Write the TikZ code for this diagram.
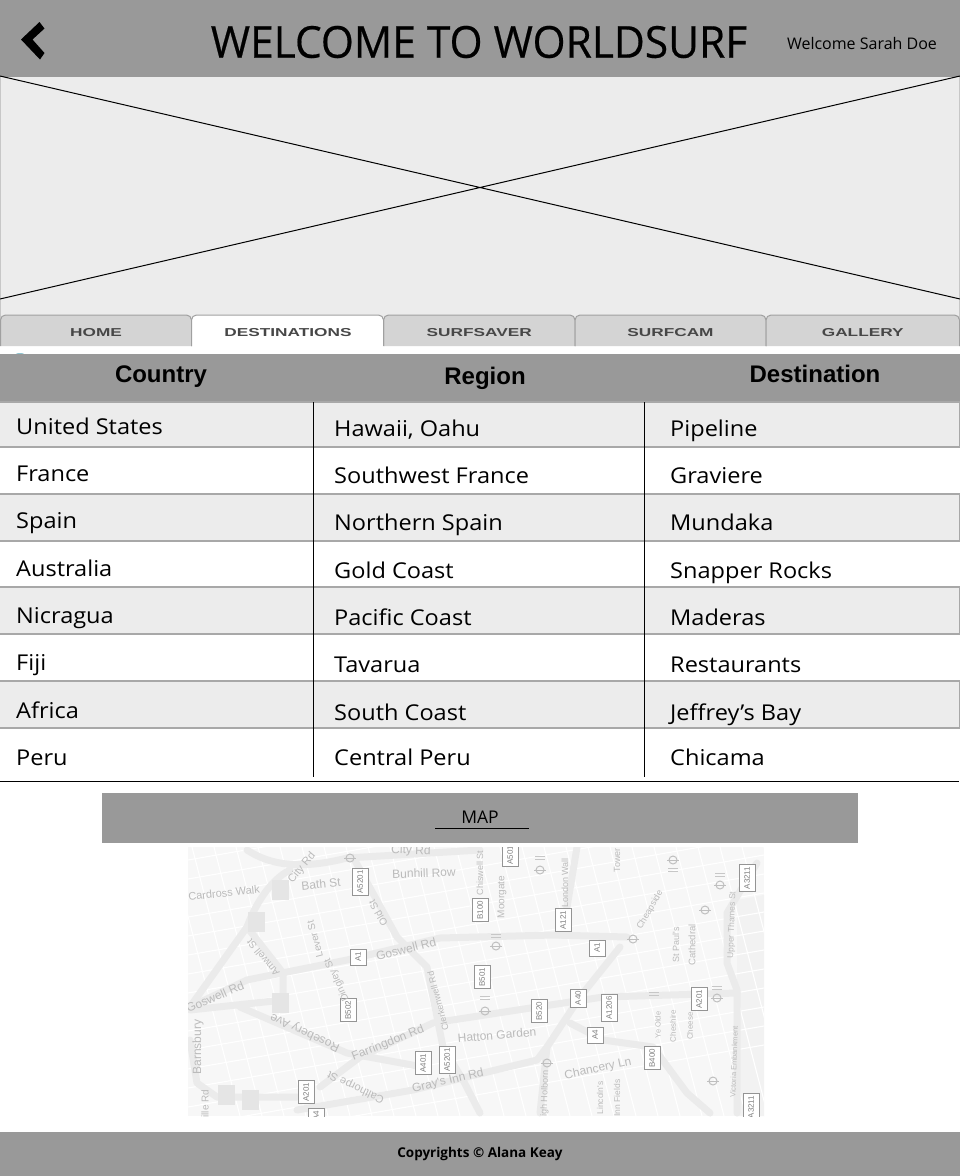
\documentclass[tikz,border=0pt]{standalone}
\usepackage{fontspec}
\setmainfont{Open Sans}
\newfontfamily\cellfont[FakeStretch=1.08]{Open Sans}
\newfontfamily\tabfont[FakeStretch=1.5]{Liberation Sans}
\newfontfamily\headfont{Liberation Sans}
\newfontfamily\mapfont{Liberation Sans}
\newfontfamily\titlefont[FakeStretch=0.965,FakeBold=0.4]{Open Sans}
\definecolor{bar}{HTML}{999999}
\definecolor{pale}{HTML}{ECECEC}
\definecolor{rowline}{HTML}{A8A8A8}
\definecolor{tabfill}{HTML}{D4D4D4}
\definecolor{tabline}{HTML}{A0A0A0}
\definecolor{road}{HTML}{EBEBEB}
\definecolor{mapbg}{HTML}{F7F7F7}
\definecolor{mapink}{HTML}{BBBBBB}
\definecolor{speck}{HTML}{8FC4D0}
\tikzset{
 x=1pt,y=-1pt,
 graybar/.style={fill=bar,draw=none},
 oddrow/.style={fill=pale,draw=rowline,line width=1.3pt},
 celltext/.style={anchor=base west,inner sep=0pt,font=\cellfont\fontsize{21.8}{24}\selectfont,text=black},
 headtext/.style={anchor=base,inner sep=0pt,font=\headfont\bfseries\fontsize{24}{26}\selectfont,text=black},
 tabshape/.style={fill=tabfill,draw=tabline,line width=1pt,rounded corners=5pt},
 tabtext/.style={anchor=center,inner sep=0pt,font=\tabfont\bfseries\fontsize{11.5}{13}\selectfont,text=black!72},
 roadline/.style={draw=road,line width=7pt,line cap=round,line join=round},
 mapbox/.style={draw=black!42,fill=white,inner xsep=2pt,inner ysep=1pt,minimum width=16pt,minimum height=16pt,rotate=90,font=\mapfont\fontsize{8}{9}\selectfont,text=black!50,line width=.7pt},
 maplabel/.style={inner sep=0pt,text=mapink},
 tube/.style={draw=black!25,line width=1pt},
}
\begin{document}
\begin{tikzpicture}
\useasboundingbox (0,0) rectangle (960,1176);
\fill[white] (0,0) rectangle (960,1176);
% top bar
\fill[graybar] (0,0) rectangle (960,77);
\fill[black] (21,39.5)--(39.5,22)--(44.5,28.5)--(32.5,39.5)--(44.5,53)--(40,59.5)--cycle;
\node[inner sep=0pt,font=\titlefont\fontsize{44}{46}\selectfont] (title) at (479,42) {WELCOME TO WORLDSURF};
\node[inner sep=0pt,font=\fontsize{16}{18}\selectfont] (welcome) at (862,43) {Welcome Sarah Doe};
% hero placeholder
\fill[pale] (0,77) rectangle (960,320);
\draw[black!22,line width=.8pt] (.5,77) -- (.5,320) (959.5,77) -- (959.5,320);
\coordinate (h1) at (0,76); \coordinate (h2) at (960,299);
\coordinate (h3) at (0,299); \coordinate (h4) at (960,76);
\draw[black,line width=1pt] (h1) -- (h2) (h3) -- (h4);
% tabs
\fill[white] (0,346) rectangle (960,354);
\foreach \a/\b/\t/\n in {0.5/191.5/HOME/a,383.5/575/SURFSAVER/c,575/766/SURFCAM/d,766/959.5/GALLERY/e}{
  \draw[tabshape] (\a,346) -- (\a,315) -- (\b,315) -- (\b,346);
  \node[tabtext] (tab\n) at ({(\a+\b)/2},332.5) {\t};
}
\fill[white,rounded corners=5pt] (191.5,350) -- (191.5,315) -- (383.5,315) -- (383.5,350) -- cycle;
\fill[white] (191.5,340) rectangle (383.5,354);
\draw[tabshape,fill=none] (191.5,346) -- (191.5,315) -- (383.5,315) -- (383.5,346);
\node[tabtext] (tabb) at (288,332.5) {DESTINATIONS};
% table
\fill[speck] (20,354) ellipse (4 and 1);
\fill[graybar] (0,354) rectangle (960,402);
\node[headtext] (hcountry) at (161,382) {Country};
\node[headtext] (hregion) at (485,384) {Region};
\node[headtext] (hdest) at (815,382) {Destination};
\foreach \u/\v in {402/447,494/541,587/634,681/728}{
  \draw[oddrow] (-2,\u) -- (959.3,\u) -- (959.3,\v) -- (-2,\v) -- cycle;
}
\coordinate (v1a) at (313.5,402); \coordinate (v1b) at (313.5,777);
\coordinate (v2a) at (644.7,402); \coordinate (v2b) at (644.7,777);
\draw[black,line width=1pt] (v1a) -- (v1b) (v2a) -- (v2b);
\coordinate (ra) at (0,781.5); \coordinate (rb) at (959,781.5);
\draw[black,line width=1pt] (ra) -- (rb);
\foreach \n/\ya/\yb/\c/\r/\d in {
 1/434/436/United States/{Hawaii, Oahu}/Pipeline,
 2/481/483/France/Southwest France/Graviere,
 3/528/530/Spain/Northern Spain/Mundaka,
 4/576/578/Australia/Gold Coast/Snapper Rocks,
 5/623/625/Nicragua/Pacific Coast/Maderas,
 6/670/672/Fiji/Tavarua/Restaurants,
 7/718/720/Africa/South Coast/Jeffrey’s Bay,
 8/765/765/Peru/Central Peru/Chicama}{
  \node[celltext] (c\n) at (16,\ya) {\c};
  \node[celltext] (r\n) at (334,\yb) {\r};
  \node[celltext] (d\n) at (670,\yb) {\d};
}
% map heading
\fill[graybar] (102,793) rectangle (858,843);
\node[inner sep=0pt,font=\fontsize{17.5}{19}\selectfont] (maphead) at (480,817) {MAP};
\coordinate (ua) at (435,828); \coordinate (ub) at (529,828);
\draw[black,line width=1pt] (ua) -- (ub);
% map
\begin{scope}
\clip (188,847) rectangle (764,1116);
\fill[mapbg] (188,847) rectangle (764,1116);
\fill[black!5] (737,900) -- (764,895) -- (764,1116) -- (737,1116) -- cycle;
% faint street grid
\foreach \k in {0,22,...,600}{
  \draw[white,line width=1.1pt] (170+\k,847) -- (240+\k,1116);
}
\foreach \k in {0,19,...,300}{
  \draw[white,line width=1.1pt] (188,860+\k) -- (764,760+\k);
}
\draw[roadline] (247,850) .. controls (270,865) and (300,870) .. (347,858) -- (480,850);
\draw[roadline] (290,870) .. controls (270,880) and (255,905) .. (247,927) -- (190,1007);
\draw[roadline] (353,857) -- (397,937) -- (427,967) -- (443,1047) -- (463,1080) -- (480,1113);
\draw[roadline] (190,1007) -- (247,980) -- (347,960) -- (440,938) -- (553,935) -- (627,937);
\draw[roadline] (247,927) -- (283,973) -- (283,1000) -- (190,1010);
\draw[roadline] (240,1007) -- (347,1053) -- (423,1067);
\draw[roadline] (320,1087) -- (360,1057) -- (433,1023) -- (537,1007) -- (603,997) -- (737,993);
\draw[roadline] (190,1040) -- (197,1083) -- (217,1097) -- (297,1097);
\draw[roadline] (297,1110) -- (413,1090) -- (537,1060) -- (547,1047);
\draw[roadline] (577,847) -- (567,907) -- (560,935);
\draw[roadline] (620,947) -- (580,997) -- (547,1047) -- (540,1113);
\draw[roadline] (570,1023) -- (603,1040) -- (653,1047) -- (687,1093) -- (710,1113);
\draw[roadline] (757,863) -- (727,913) -- (727,963) -- (737,990) -- (737,1113);
\foreach \x/\y in {272/880,248/912,272/993,218/1085,242/1090}{
  \fill[black!10] (\x,\y) rectangle +(17,20);
}
\foreach \x/\y in {673/860,540/870,720/885,705/910,633/939,496/946,485/1011,717/998,547/1063,713/1081,350/858}{
  \draw[tube] (\x,\y) circle (4);
  \draw[tube] (\x-6,\y) -- (\x+6,\y);
}
\foreach \x/\y in {673/870,540/858,720/875,496/936,485/998,654/994,717/988}{
  \draw[black!22,line width=.8pt] (\x-5,\y-1.5) -- (\x+5,\y-1.5) (\x-5,\y+1.5) -- (\x+5,\y+1.5);
}
\foreach \n/\x/\y/\t in {a/360/882/A5201,b/358/957/A1,c/348/1010/B502,d/423/1063/A401,e/447/1060/A5201,f/306/1092/A201,g/480/910/B100,h/510/855/A501,i/482/977/B501,j/563/920/A121,k/597/948/A1,l/539/1011/B520,m/578/998/A40,n/609/1008/A1206,o/595/1035/A4,p/652/1058/B400,q/699/999/A201,r/747/878/A3211,s/751/1107/A3211,t/316/1116/A4}{
  \node[mapbox] (box\n) at (\x,\y) {\t};
}
\foreach \n/\x/\y/\r/\s/\t in {
 a/411/851/-2/12/City Rd,
 b/302/868/50/11/City Rd,
 c/224/893/6/11/Cardross Walk,
 d/321/884/6/12/Bath St,
 e/424/873/2/12/Bunhill Row,
 f/378/913/120/10/Old St,
 g/315/939/105/10/Lever St,
 h/406/949/14/12/Goswell Rd,
 i/263/958/130/10/Amwell St,
 j/337/980/115/10/Dingley St,
 k/215/997/23/12/Goswell Rd,
 l/305/1032/155/12/Rosebery Ave,
 m/388/1043/22/12/Farringdon Rd,
 n/438/1001/105/9/Clerkenwell Rd,
 o/198/1047/90/12/Barnsbury,
 p/205/1122/90/10/Pentonville Rd,
 q/356/1087/155/11/Calthorpe St,
 r/448/1081/13/12/Gray's Inn Rd,
 s/497/1035/5/12/Hatton Garden,
 t/480/873/90/9/Chiswell St,
 u/502/897/90/10/Moorgate,
 v/565/883/90/9/London Wall,
 w/617/860/90/9/Tower,
 x/650/910/60/9/Cheapside,
 y/676/945/90/9/St Paul's,
 z/692/945/90/9.5/Cathedral,
 aa/732/925/88/8.5/Upper Thames St,
 ab/734/1062/88/7.5/Victoria Embankment,
 ac/545/1097/88/9/High Holborn,
 ad/598/1069/12/12/Chancery Ln,
 ae/600/1098/90/8.5/Lincoln's,
 af/617/1098/90/8.5/Inn Fields,
 ag/658/1025/90/7.5/Ye Olde,
 ah/673/1026/90/8/Cheshire,
 ai/690/1026/90/8/Cheese}{
  \node[maplabel,rotate=\r,font=\mapfont\fontsize{\s}{\s}\selectfont] (lab\n) at (\x,\y) {\t};
}
\end{scope}
% footer
\fill[graybar] (0,1132) rectangle (960,1176);
\node[inner sep=0pt,font=\fontsize{13.5}{15}\selectfont\bfseries] (foot) at (480,1154) {Copyrights  © Alana Keay};
\end{tikzpicture}
\end{document}
